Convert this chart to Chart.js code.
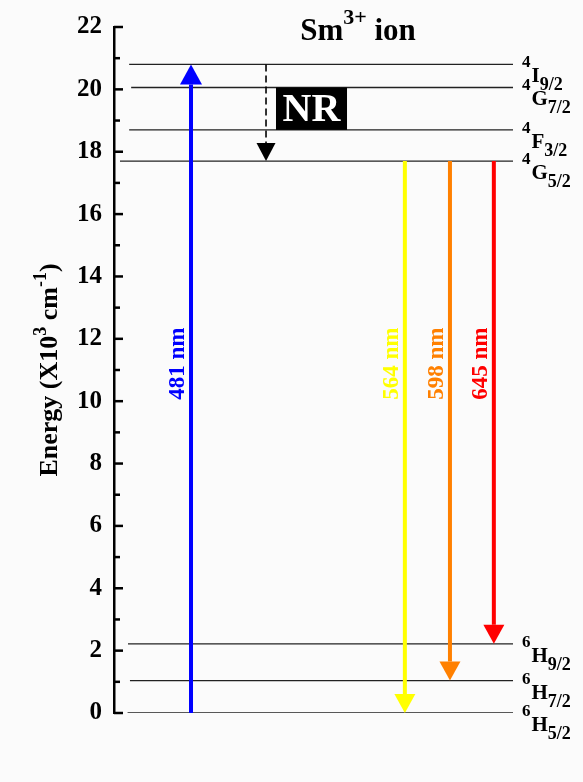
<!DOCTYPE html>
<html>
<head>
<meta charset="utf-8">
<script src="https://cdn.jsdelivr.net/npm/chart.js@4.4.0/dist/chart.umd.min.js"></script>
<style>
  html, body { margin: 0; padding: 0; background: #fbfbfb; }
  #energyChart { display: block; }
</style>
</head>
<body>
<canvas id="energyChart" width="583" height="782"></canvas>
<script>
    // Energy levels of Sm3+ (x10^3 cm^-1)
    const levelTerms = [['6', 'H', '5/2'], ['6', 'H', '7/2'], ['6', 'H', '9/2'], ['4', 'G', '5/2'], ['4', 'F', '3/2'], ['4', 'G', '7/2'], ['4', 'I', '9/2']];
    const levelEnergy = [0, 1.04, 2.22, 17.7, 18.7, 20.06, 20.8];
    const levelStart = [3.4, 4.0, 3.5, 1.5, 3.8, 4.3, 3.8];

    // Radiative transitions
    const transitionLabels = ['481 nm', '564 nm', '598 nm', '645 nm'];
    const transitionX = [19.3, 72.9, 84.2, 95.2];
    const transitionFrom = [0, 17.7, 17.7, 17.7];
    const transitionTo = [20.8, 0, 1.04, 2.22];
    const transitionColors = ['#0000ff', '#ffff00', '#ff8000', '#ff0000'];

    // Non-radiative relaxation 4I9/2 -> 4G5/2
    const nrX = 38.1;
    const nrFrom = 20.8;
    const nrTo = 17.7;
    const nrBoxX = [40.6, 58.4];
    const nrBoxY = [18.7, 20.06];

    // Axis ticks
    const yTickValues = [0, 2, 4, 6, 8, 10, 12, 14, 16, 18, 20, 22];
    const yMinorTicks = [1, 3, 5, 7, 9, 11, 13, 15, 17, 19, 21];

    const serif = '"Liberation Serif", "Times New Roman", serif';

    function drawArrow(ctx, x, y0, y1, color, width, headW, headH, dash) {
        const dir = y1 < y0 ? -1 : 1;
        const baseY = y1 - dir * headH;
        ctx.save();
        ctx.strokeStyle = color;
        ctx.lineWidth = width;
        ctx.setLineDash(dash || []);
        ctx.beginPath();
        ctx.moveTo(x, y0);
        ctx.lineTo(x, baseY);
        ctx.stroke();
        ctx.setLineDash([]);
        ctx.fillStyle = color;
        ctx.beginPath();
        ctx.moveTo(x, y1);
        ctx.lineTo(x - headW / 2, baseY);
        ctx.lineTo(x + headW / 2, baseY);
        ctx.closePath();
        ctx.fill();
        ctx.restore();
    }

    // superscript multiplicity, letter, subscript J
    function drawTerm(ctx, term, x, y) {
        ctx.fillStyle = '#000';
        ctx.textAlign = 'left';
        ctx.textBaseline = 'alphabetic';
        ctx.font = 'bold 17px ' + serif;
        ctx.fillText(term[0], x, y + 3);
        const sx = x + ctx.measureText(term[0]).width + 1;
        ctx.font = 'bold 21px ' + serif;
        ctx.fillText(term[1], sx, y + 18);
        const bx = sx + ctx.measureText(term[1]).width;
        ctx.font = 'bold 18px ' + serif;
        ctx.fillText(term[2], bx, y + 26);
    }

    // list of [text, size, raise] drawn one after another
    function drawParts(ctx, parts, x, y) {
        let cx = x;
        parts.forEach(p => {
            ctx.font = 'bold ' + p[1] + 'px ' + serif;
            ctx.fillText(p[0], cx, y - p[2]);
            cx += ctx.measureText(p[0]).width;
        });
    }
    function partsWidth(ctx, parts) {
        let w = 0;
        parts.forEach(p => {
            ctx.font = 'bold ' + p[1] + 'px ' + serif;
            w += ctx.measureText(p[0]).width;
        });
        return w;
    }

    const diagramPlugin = {
        id: 'diagram',
        afterDatasetsDraw(chart) {
            const ctx = chart.ctx;
            const xs = chart.scales.x;
            const ys = chart.scales.y;
            const area = chart.chartArea;

            // inward ticks on the energy axis
            ctx.save();
            ctx.strokeStyle = '#000';
            ctx.lineWidth = 2.5;
            yTickValues.forEach(v => {
                const y = ys.getPixelForValue(v);
                ctx.beginPath(); ctx.moveTo(area.left, y); ctx.lineTo(area.left + 9, y); ctx.stroke();
            });
            yMinorTicks.forEach(v => {
                const y = ys.getPixelForValue(v);
                ctx.beginPath(); ctx.moveTo(area.left, y); ctx.lineTo(area.left + 6, y); ctx.stroke();
            });
            ctx.restore();

            // NR box
            const bx0 = xs.getPixelForValue(nrBoxX[0]);
            const bx1 = xs.getPixelForValue(nrBoxX[1]);
            const by0 = ys.getPixelForValue(nrBoxY[1]);
            const by1 = ys.getPixelForValue(nrBoxY[0]);
            ctx.save();
            ctx.fillStyle = '#000';
            ctx.fillRect(bx0, by0, bx1 - bx0, by1 - by0);
            ctx.fillStyle = '#fff';
            ctx.font = 'bold 40px ' + serif;
            ctx.textAlign = 'center';
            ctx.textBaseline = 'middle';
            ctx.fillText('NR', (bx0 + bx1) / 2, (by0 + by1) / 2 + 2);
            ctx.restore();

            // NR dashed arrow
            drawArrow(ctx, xs.getPixelForValue(nrX), ys.getPixelForValue(nrFrom), ys.getPixelForValue(nrTo),
                '#000', 1.6, 19, 18, [7, 4]);

            // radiative arrows and their labels
            transitionX.forEach((tx, i) => {
                const px = xs.getPixelForValue(tx);
                const isUp = transitionTo[i] > transitionFrom[i];
                drawArrow(ctx, px, ys.getPixelForValue(transitionFrom[i]), ys.getPixelForValue(transitionTo[i]),
                    transitionColors[i], 4, isUp ? 22 : 21, isUp ? 20 : 19);
                ctx.save();
                ctx.translate(px - 13, ys.getPixelForValue(11.2));
                ctx.rotate(-Math.PI / 2);
                ctx.fillStyle = transitionColors[i];
                ctx.font = 'bold 23px ' + serif;
                ctx.textAlign = 'center';
                ctx.textBaseline = 'middle';
                ctx.fillText(transitionLabels[i], 0, 0);
                ctx.restore();
            });

            // term symbols
            ctx.save();
            levelEnergy.forEach((e, i) => {
                drawTerm(ctx, levelTerms[i], area.right + 9, ys.getPixelForValue(e));
            });
            ctx.restore();

            // title
            ctx.save();
            ctx.fillStyle = '#000';
            ctx.textAlign = 'left';
            ctx.textBaseline = 'alphabetic';
            const title = [['Sm', 31, 0], ['3+', 22, 16], [' ion', 31, 0]];
            drawParts(ctx, title, 358 - partsWidth(ctx, title) / 2, 40);
            ctx.restore();

            // energy axis title
            ctx.save();
            ctx.translate(57, ys.getPixelForValue(11));
            ctx.rotate(-Math.PI / 2);
            ctx.fillStyle = '#000';
            ctx.textAlign = 'left';
            ctx.textBaseline = 'alphabetic';
            const yTitle = [['Energy (X10', 26, 0], ['3', 18, 11], [' cm', 26, 0], ['-1', 18, 11], [')', 26, 0]];
            drawParts(ctx, yTitle, -partsWidth(ctx, yTitle) / 2, 0);
            ctx.restore();
        }
    };

    const levelDatasets = levelEnergy.map((e, i) => ({
        label: levelTerms[i].join(''),
        data: [{ x: levelStart[i], y: e }, { x: 100, y: e }],
        borderColor: '#222',
        borderWidth: 1.3,
        pointRadius: 0,
        fill: false
    }));

    const config = {
        type: 'line',
        data: { datasets: levelDatasets },
        options: {
            responsive: false,
            animation: false,
            layout: { padding: { top: 18, right: 70, bottom: 69, left: 0 } },
            plugins: {
                legend: { display: false },
                tooltip: { enabled: false }
            },
            scales: {
                x: { type: 'linear', min: 0, max: 100, display: false },
                y: {
                    min: 0,
                    max: 22,
                    afterBuildTicks: scale => { scale.ticks = yTickValues.map(v => ({ value: v })); },
                    afterFit: scale => { scale.width = 114; },
                    ticks: {
                        color: '#000',
                        padding: 12,
                        font: { family: serif, size: 25, weight: 'bold' }
                    },
                    grid: { display: false, drawTicks: false },
                    border: { display: true, color: '#000', width: 2.5 }
                }
            }
        },
        plugins: [diagramPlugin]
    };

    const energyChart = new Chart(document.getElementById('energyChart'), config);
</script>
</body>
</html>
